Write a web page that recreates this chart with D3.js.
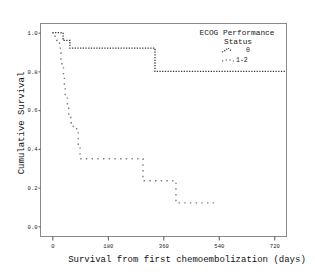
<!DOCTYPE html>
<html>
<head>
<meta charset="utf-8">
<script src="https://cdn.jsdelivr.net/npm/d3@7"></script>
<style>
  body { margin: 0; background: #fff; }
  svg text { font-family: "Liberation Mono", "DejaVu Sans Mono", monospace; fill: #222; }
  .frame { fill: none; stroke: #8a8a8a; stroke-width: 1; }
  .axis path { display: none; }
  .axis line { stroke: #555; }
</style>
</head>
<body>
<div id="chart"></div>
<script>
// Kaplan-Meier steps: [days, survival after the step]
var group0 = [[0, 1.0], [35, 0.96], [57, 0.92], [333, 0.80], [758, 0.80]];
var group12 = [[0, 1.0], [9, 0.96], [16, 0.947], [23, 0.926], [26, 0.895], [28, 0.86],
    [31, 0.826], [36, 0.774], [39, 0.722], [42, 0.67], [49, 0.628], [53, 0.576],
    [60, 0.535], [68, 0.516], [79, 0.49], [84, 0.42], [90, 0.349], [294, 0.235],
    [401, 0.121], [537, 0.121]];
var xTicks = [0, 180, 360, 540, 720];
var yTicks = [0.0, 0.2, 0.4, 0.6, 0.8, 1.0];
var legendLabels = ["0", "1-2"];

var width = 315, height = 275;
var margin = {top: 23, right: 29, bottom: 39, left: 40};

var svg = d3.select("#chart")
    .append("svg")
    .attr("width", width)
    .attr("height", height);

var xScale = d3.scaleLinear().domain([-40, 758]).range([margin.left, width - margin.right]);
var yScale = d3.scaleLinear().domain([-0.05, 1.05]).range([height - margin.bottom, margin.top]);

svg.append("rect")
    .attr("class", "frame")
    .attr("x", margin.left + 0.5)
    .attr("y", margin.top + 0.5)
    .attr("width", width - margin.left - margin.right)
    .attr("height", height - margin.top - margin.bottom);

// x axis
var gx = svg.append("g")
    .attr("class", "axis axis--x")
    .attr("transform", "translate(0," + (height - margin.bottom + 0.5) + ")")
    .call(d3.axisBottom(xScale).tickValues(xTicks).tickSize(4).tickFormat(d3.format("d")));
gx.selectAll("text")
    .attr("dy", "0.9em")
    .style("font-size", "5.5px");

// y axis
var gy = svg.append("g")
    .attr("class", "axis axis--y")
    .attr("transform", "translate(" + (margin.left + 0.5) + ",0)")
    .call(d3.axisLeft(yScale).tickValues(yTicks).tickSize(2).tickFormat(d3.format(".1f")));
gy.selectAll("text")
    .attr("x", -3)
    .style("font-size", "5.5px");

var line = d3.line()
    .x(function(d) { return xScale(d[0]); })
    .y(function(d) { return yScale(d[1]); })
    .curve(d3.curveStepAfter);

svg.append("path")
    .datum(group0)
    .attr("d", line)
    .attr("fill", "none")
    .attr("stroke", "#3a3a3a")
    .attr("stroke-width", 1.3)
    .attr("stroke-dasharray", "1.3,1.4");

svg.append("path")
    .datum(group12)
    .attr("d", line)
    .attr("fill", "none")
    .attr("stroke", "#7a7a7a")
    .attr("stroke-width", 1.4)
    .attr("stroke-dasharray", "1.4,4.3");

// axis titles
svg.append("text")
    .attr("x", 187)
    .attr("y", 262)
    .attr("text-anchor", "middle")
    .style("font-size", "9px")
    .style("fill", "#111")
    .text("Survival from first chemoembolization (days)");

svg.append("text")
    .attr("transform", "translate(21,123) rotate(-90)")
    .attr("text-anchor", "middle")
    .attr("dy", "0.35em")
    .style("font-size", "9px")
    .style("fill", "#111")
    .text("Cumulative Survival");

// legend
var legend = svg.append("g").attr("class", "legend");
legend.append("text")
    .attr("x", 237).attr("y", 34.5)
    .attr("text-anchor", "middle")
    .style("font-size", "7.8px")
    .text("ECOG Performance");
legend.append("text")
    .attr("x", 238).attr("y", 43.5)
    .attr("text-anchor", "middle")
    .style("font-size", "7.8px")
    .text("Status");

var sample = d3.line().curve(d3.curveLinear);
legend.append("path")
    .attr("d", sample([[222, 52], [226, 50], [228, 48], [231, 50.5]]))
    .attr("fill", "none")
    .attr("stroke", "#3a3a3a")
    .attr("stroke-width", 1.2)
    .attr("stroke-dasharray", "1.2,1.3");
legend.append("path")
    .attr("d", sample([[222, 61], [228, 59.5], [234, 61]]))
    .attr("fill", "none")
    .attr("stroke", "#7a7a7a")
    .attr("stroke-width", 1.3)
    .attr("stroke-dasharray", "1.3,2.5");
legend.selectAll("text.lab")
    .data(legendLabels)
    .enter().append("text")
    .attr("class", "lab")
    .attr("x", function(d, i) { return i === 0 ? 246 : 236; })
    .attr("y", function(d, i) { return 52 + i * 10; })
    .style("font-size", "6.5px")
    .text(function(d) { return d; });
</script>
</body>
</html>
